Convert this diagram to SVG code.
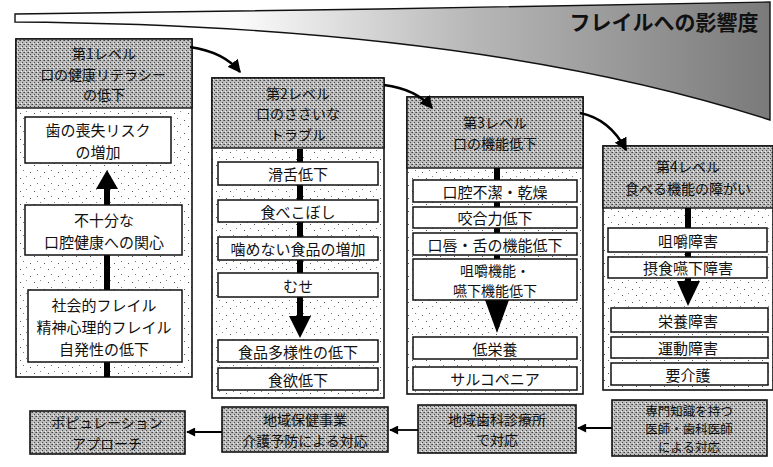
<svg xmlns="http://www.w3.org/2000/svg" width="773" height="467" viewBox="0 0 773 467">
<defs>
<style>
text{font-family:"Noto Sans CJK JP","Noto Sans",sans-serif;fill:#111;text-anchor:middle;dominant-baseline:central}
.hd{font-size:14px}
.tx{font-size:15px}
.t2{font-size:15px}
.bt{font-size:14px}
.b4t{font-size:12.5px}
.frame{fill:url(#dots);stroke:#111;stroke-width:1.6}
.head{fill:url(#dither);stroke:#111;stroke-width:1.4}
.box{fill:#fff;stroke:#111;stroke-width:1.5}
.bbox{fill:url(#dither);stroke:#111;stroke-width:1.6}
.shaft{stroke:#000;stroke-width:6;fill:none}
.curve{stroke:#000;stroke-width:2.6;fill:none;marker-end:url(#ah)}
.flow{stroke:#000;stroke-width:1.8;fill:none;marker-end:url(#ahs)}
</style>
<pattern id="dots" width="14" height="13" patternUnits="userSpaceOnUse">
<rect width="14" height="13" fill="#fff"/>
<rect x="2" y="3" width="1" height="1" fill="#555"/>
<rect x="9" y="1" width="1" height="1" fill="#777"/>
<rect x="6" y="9" width="1" height="1" fill="#555"/>
<rect x="12" y="7" width="1" height="1" fill="#888"/>
</pattern>
<pattern id="dither" width="4" height="4" patternUnits="userSpaceOnUse">
<rect width="4" height="4" fill="#bdbdbd"/>
<rect x="0" y="0" width="1" height="1" fill="#444"/>
<rect x="2" y="2" width="1" height="1" fill="#444"/>
<rect x="3" y="0" width="1" height="1" fill="#777"/>
<rect x="1" y="3" width="1" height="1" fill="#eee"/>
</pattern>
<linearGradient id="wedge" x1="0" y1="0" x2="1" y2="0">
<stop offset="0" stop-color="#fff"/>
<stop offset="0.3" stop-color="#fafafa"/>
<stop offset="0.6" stop-color="#b8b8b8"/>
<stop offset="1" stop-color="#7a7a7a"/>
</linearGradient>
<marker id="ah" viewBox="0 0 10 10" refX="9" refY="5" markerWidth="5" markerHeight="5" orient="auto" markerUnits="strokeWidth">
<path d="M0,0 L10,5 L0,10 Z" fill="#000"/>
</marker>
<marker id="ahs" viewBox="0 0 10 10" refX="9" refY="5" markerWidth="6" markerHeight="5" orient="auto" markerUnits="strokeWidth">
<path d="M0,0 L10,5 L0,10 Z" fill="#000"/>
</marker>
</defs>
<rect width="773" height="467" fill="#fff"/>

<g id="banner">
<path d="M15,14 L380,9 L770,2 L770,120 C560,52 300,24 15,22 Z" fill="url(#wedge)" stroke="#111" stroke-width="1.4"/>
<text x="664" y="21" style="font-size:21px;font-weight:bold">フレイルへの影響度</text>
</g>

<g id="level1">
<rect class="frame" x="16" y="39" width="176" height="338"/>
<rect class="head" x="16" y="39" width="176" height="69"/>
<text class="hd" x="104" y="53">第1レベル</text>
<text class="hd" x="103" y="73.5">口の健康リテラシー</text>
<text class="hd" x="104" y="94">の低下</text>
</g>
<g id="level2">
<rect class="frame" x="212" y="78" width="172" height="320"/>
<rect class="head" x="212" y="78" width="172" height="70"/>
<text class="hd" x="298" y="92.5">第2レベル</text>
<text class="hd" x="298" y="113">口のささいな</text>
<text class="hd" x="298" y="133.5">トラブル</text>
</g>
<g id="level3">
<rect class="frame" x="407" y="97" width="176" height="297"/>
<rect class="head" x="407" y="97" width="176" height="71"/>
<text class="hd" x="495" y="122">第3レベル</text>
<text class="hd" x="495" y="143">口の機能低下</text>
</g>
<g id="level4">
<rect class="frame" x="603" y="146" width="170" height="244"/>
<rect class="head" x="603" y="146" width="170" height="62"/>
<text class="hd" x="688" y="166">第4レベル</text>
<text class="hd" x="688" y="188">食べる機能の障がい</text>
</g>

<g id="connectors">
<path class="curve" d="M190,47 Q224,52 240,72"/>
<path class="curve" d="M384,85 Q416,89 432,108"/>
<path class="curve" d="M580,113 Q610,119 626,150"/>
<line class="shaft" x1="107" y1="377" x2="107" y2="188"/>
<polygon points="96,189 118,189 107,170" fill="#000"/>
<line class="shaft" x1="300" y1="149" x2="300" y2="318"/>
<polygon points="289,316 311,316 300,338" fill="#000"/>
<line class="shaft" x1="497" y1="168" x2="497" y2="302"/>
<polygon points="485,300 509,300 497,333" fill="#000"/>
<line class="shaft" x1="688" y1="208" x2="688" y2="283"/>
<polygon points="677,281 700,281 688,306" fill="#000"/>
<path class="flow" d="M222,432 L187,432"/>
<path class="flow" d="M418,430 L390,430"/>
<path class="flow" d="M612,428 L578,428"/>
</g>

<g id="n1a"><rect class="box" x="25" y="117" width="146" height="46"/><text class="tx" x="98" y="129">歯の喪失リスク</text><text class="tx" x="98" y="151">の増加</text></g>
<g id="n1b"><rect class="box" x="25" y="205" width="157" height="50"/><text class="tx" x="104" y="219">不十分な</text><text class="tx" x="104" y="241">口腔健康への関心</text></g>
<g id="n1c"><rect class="box" x="28" y="290" width="154" height="72"/><text class="tx" x="104" y="304">社会的フレイル</text><text class="tx" x="104" y="326">精神心理的フレイル</text><text class="tx" x="104" y="348">自発性の低下</text></g>

<g id="n2a"><rect class="box" x="218" y="162" width="160" height="23"/><text class="t2" x="298" y="173.5">滑舌低下</text></g>
<g id="n2b"><rect class="box" x="218" y="200" width="160" height="22"/><text class="t2" x="298" y="211">食べこぼし</text></g>
<g id="n2c"><rect class="box" x="218" y="237" width="160" height="23"/><text class="t2" x="298" y="248.5">噛めない食品の増加</text></g>
<g id="n2d"><rect class="box" x="218" y="273" width="160" height="24"/><text class="t2" x="298" y="285">むせ</text></g>
<g id="n2e"><rect class="box" x="218" y="340" width="160" height="22"/><text class="t2" x="298" y="351">食品多様性の低下</text></g>
<g id="n2f"><rect class="box" x="218" y="368" width="160" height="22"/><text class="t2" x="298" y="379">食欲低下</text></g>

<g id="n3a"><rect class="box" x="413" y="180" width="164" height="22"/><text class="t2" x="495" y="191">口腔不潔・乾燥</text></g>
<g id="n3b"><rect class="box" x="413" y="207" width="164" height="21"/><text class="t2" x="495" y="217.5">咬合力低下</text></g>
<g id="n3c"><rect class="box" x="413" y="233" width="164" height="22"/><text class="t2" x="495" y="244">口唇・舌の機能低下</text></g>
<g id="n3d"><rect class="box" x="413" y="259" width="164" height="41"/><text x="495" y="269.5" style="font-size:14px">咀嚼機能・</text><text x="495" y="290" style="font-size:14px">嚥下機能低下</text></g>
<g id="n3e"><rect class="box" x="413" y="337" width="164" height="22"/><text class="t2" x="495" y="348">低栄養</text></g>
<g id="n3f"><rect class="box" x="413" y="367" width="164" height="23"/><text class="t2" x="495" y="378.5">サルコペニア</text></g>

<g id="n4a"><rect class="box" x="608" y="228" width="159" height="24"/><text class="t2" x="688" y="240">咀嚼障害</text></g>
<g id="n4b"><rect class="box" x="608" y="257" width="159" height="21"/><text class="t2" x="688" y="267.5">摂食嚥下障害</text></g>
<g id="n4c"><rect class="box" x="611" y="308" width="157" height="24"/><text class="t2" x="688" y="320">栄養障害</text></g>
<g id="n4d"><rect class="box" x="611" y="337" width="157" height="21"/><text class="t2" x="688" y="347.5">運動障害</text></g>
<g id="n4e"><rect class="box" x="611" y="363" width="157" height="22"/><text class="t2" x="688" y="374">要介護</text></g>

<g id="b1"><rect class="bbox" x="30" y="411" width="155" height="43"/><text class="bt" x="107" y="422">ポピュレーション</text><text class="bt" x="107" y="442.5">アプローチ</text></g>
<g id="b2"><rect class="bbox" x="222" y="407" width="166" height="45"/><text class="bt" x="305" y="419">地域保健事業</text><text class="bt" x="305" y="439.5">介護予防による対応</text></g>
<g id="b3"><rect class="bbox" x="418" y="405" width="158" height="48"/><text class="bt" x="497" y="418.5">地域歯科診療所</text><text class="bt" x="497" y="439">で対応</text></g>
<g id="b4"><rect class="bbox" x="612" y="400" width="155" height="56"/><text class="b4t" x="689" y="410">専門知識を持つ</text><text class="b4t" x="689" y="428">医師・歯科医師</text><text class="b4t" x="689" y="446">による対応</text></g>
</svg>
